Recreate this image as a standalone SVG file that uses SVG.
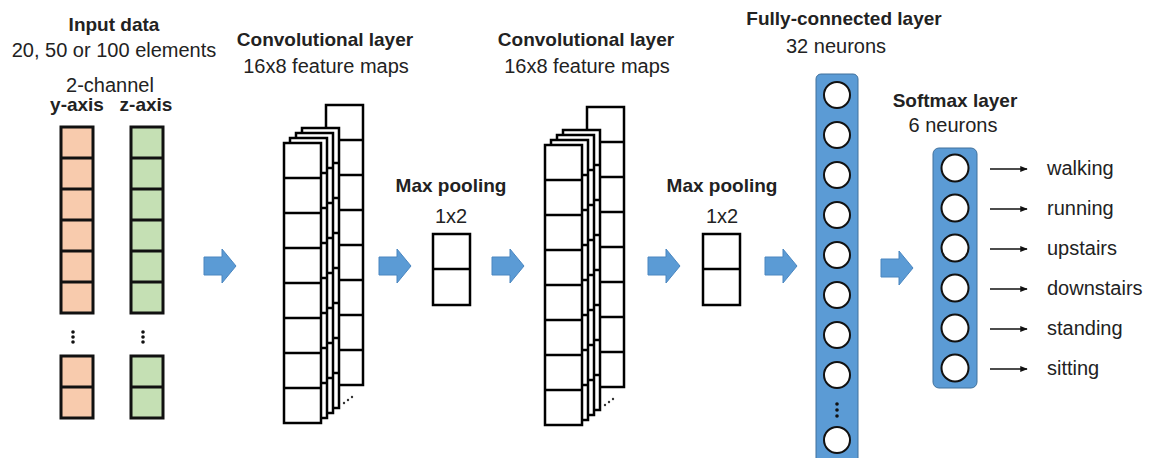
<svg xmlns="http://www.w3.org/2000/svg" width="1149" height="458" viewBox="0 0 1149 458">
  <defs>
    <style>
      .t { font-family: "Liberation Sans", Arial, sans-serif; font-size: 20px; fill: #222; }
      .b { font-family: "Liberation Sans", Arial, sans-serif; font-size: 19px; font-weight: bold; fill: #222; }
      .m { text-anchor: middle; }
      .cell { fill: #fff; stroke: #000; stroke-width: 2.5; }
      .y { fill: #F8CBAD; stroke: #111; stroke-width: 3; }
      .z { fill: #C5E0B4; stroke: #111; stroke-width: 3; }
      .bar { fill: #5B9BD5; stroke: #41719C; stroke-width: 1; }
      .neuron { fill: #fff; stroke: #111; stroke-width: 2; }
      .flow { fill: #5B9BD5; stroke: #4A86C0; stroke-width: 1; }
      .out { stroke: #111; stroke-width: 1.5; fill: none; marker-end: url(#ah); }
    </style>
    <!-- one 8-cell feature-map column -->
    <g id="fmap">
      <rect class="cell" x="0" y="0" width="37" height="280"/>
      <path d="M0 35H37M0 70H37M0 105H37M0 140H37M0 175H37M0 210H37M0 245H37" stroke="#000" stroke-width="2.5"/>
    </g>
    <!-- stack of feature maps -->
    <g id="stack">
      <use href="#fmap" x="42" y="-38"/>
      <use href="#fmap" x="18" y="-15"/>
      <use href="#fmap" x="12" y="-10"/>
      <use href="#fmap" x="6" y="-5"/>
      <use href="#fmap" x="0" y="0"/>
      <g fill="#333">
        <circle cx="60" cy="260" r="1.2"/>
        <circle cx="64" cy="257" r="1.2"/>
        <circle cx="68" cy="254" r="1.2"/>
      </g>
    </g>
    <!-- 1x2 pooling window -->
    <g id="pool">
      <rect class="cell" x="0" y="0" width="37" height="71"/>
      <path d="M0 35H37" stroke="#000" stroke-width="2.5"/>
    </g>
    <path id="blk" class="flow" d="M0 -9H18V-17L32 0L18 17V9H0Z"/>
    <marker id="ah" viewBox="0 0 10 10" refX="9" refY="5" markerWidth="5" markerHeight="5" orient="auto">
      <path d="M0 1L10 5L0 9Z" fill="#111"/>
    </marker>
  </defs>

  <!-- input channels -->
  <g id="input">
    <text class="b m" x="114" y="31">Input data</text>
    <text class="t m" x="114" y="57">20, 50 or 100 elements</text>
    <text class="t m" x="110" y="92">2-channel</text>
    <text class="b m" x="77" y="111">y-axis</text>
    <text class="b m" x="146" y="111">z-axis</text>
    <g id="y-axis">
      <rect class="y" x="61" y="127" width="32" height="186"/>
      <path d="M61 158H93M61 189H93M61 220H93M61 251H93M61 282H93" stroke="#111" stroke-width="3"/>
      <rect class="y" x="61" y="356" width="32" height="62"/>
      <path d="M61 387H93" stroke="#111" stroke-width="3"/>
      <g fill="#111"><circle cx="73" cy="332" r="1.8"/><circle cx="73" cy="337" r="1.8"/><circle cx="73" cy="342" r="1.8"/></g>
    </g>
    <g id="z-axis">
      <rect class="z" x="131" y="127" width="32" height="186"/>
      <path d="M131 158H163M131 189H163M131 220H163M131 251H163M131 282H163" stroke="#111" stroke-width="3"/>
      <rect class="z" x="131" y="356" width="32" height="62"/>
      <path d="M131 387H163" stroke="#111" stroke-width="3"/>
      <g fill="#111"><circle cx="143" cy="332" r="1.8"/><circle cx="143" cy="337" r="1.8"/><circle cx="143" cy="342" r="1.8"/></g>
    </g>
  </g>

  <g id="conv1">
    <text class="b m" x="325" y="46">Convolutional layer</text>
    <text class="t m" x="326" y="73">16x8 feature maps</text>
    <use href="#stack" x="284" y="143"/>
  </g>

  <g id="pool1">
    <text class="b m" x="451" y="192">Max pooling</text>
    <text class="t m" x="451" y="223">1x2</text>
    <use href="#pool" x="433" y="234"/>
  </g>

  <g id="conv2">
    <text class="b m" x="586" y="46">Convolutional layer</text>
    <text class="t m" x="587" y="73">16x8 feature maps</text>
    <use href="#stack" x="545" y="145"/>
  </g>

  <g id="pool2">
    <text class="b m" x="722" y="192">Max pooling</text>
    <text class="t m" x="722" y="223">1x2</text>
    <use href="#pool" x="703" y="234"/>
  </g>

  <g id="fc">
    <text class="b m" x="844" y="25">Fully-connected layer</text>
    <text class="t m" x="836" y="53">32 neurons</text>
    <rect class="bar" x="816" y="74" width="42" height="400" rx="5"/>
    <circle class="neuron" cx="837" cy="95" r="13"/>
    <circle class="neuron" cx="837" cy="135" r="13"/>
    <circle class="neuron" cx="837" cy="175" r="13"/>
    <circle class="neuron" cx="837" cy="215" r="13"/>
    <circle class="neuron" cx="837" cy="255" r="13"/>
    <circle class="neuron" cx="837" cy="295" r="13"/>
    <circle class="neuron" cx="837" cy="335" r="13"/>
    <circle class="neuron" cx="837" cy="375" r="13"/>
    <g fill="#111"><circle cx="837" cy="404" r="1.8"/><circle cx="837" cy="410" r="1.8"/><circle cx="837" cy="416" r="1.8"/></g>
    <circle class="neuron" cx="837" cy="440" r="13"/>
  </g>

  <g id="softmax">
    <text class="b m" x="955" y="107">Softmax layer</text>
    <text class="t m" x="953" y="132">6 neurons</text>
    <rect class="bar" x="933" y="148" width="44" height="240" rx="6"/>
    <circle class="neuron" cx="955" cy="168" r="13.5"/>
    <circle class="neuron" cx="955" cy="208" r="13.5"/>
    <circle class="neuron" cx="955" cy="248" r="13.5"/>
    <circle class="neuron" cx="955" cy="288" r="13.5"/>
    <circle class="neuron" cx="955" cy="328" r="13.5"/>
    <circle class="neuron" cx="955" cy="368" r="13.5"/>
  </g>

  <g id="outputs">
    <text class="t" x="1047" y="175">walking</text>
    <text class="t" x="1047" y="215">running</text>
    <text class="t" x="1047" y="255">upstairs</text>
    <text class="t" x="1047" y="295">downstairs</text>
    <text class="t" x="1047" y="335">standing</text>
    <text class="t" x="1047" y="375">sitting</text>
  </g>

  <g id="connectors">
    <use href="#blk" x="204" y="266"/>
    <use href="#blk" x="379" y="266"/>
    <use href="#blk" x="492" y="266"/>
    <use href="#blk" x="648" y="266"/>
    <use href="#blk" x="765" y="266"/>
    <use href="#blk" x="881" y="268"/>
    <path class="out" d="M990 169H1027"/>
    <path class="out" d="M990 209H1027"/>
    <path class="out" d="M990 249H1027"/>
    <path class="out" d="M990 289H1027"/>
    <path class="out" d="M990 329H1027"/>
    <path class="out" d="M990 369H1027"/>
  </g>
</svg>
